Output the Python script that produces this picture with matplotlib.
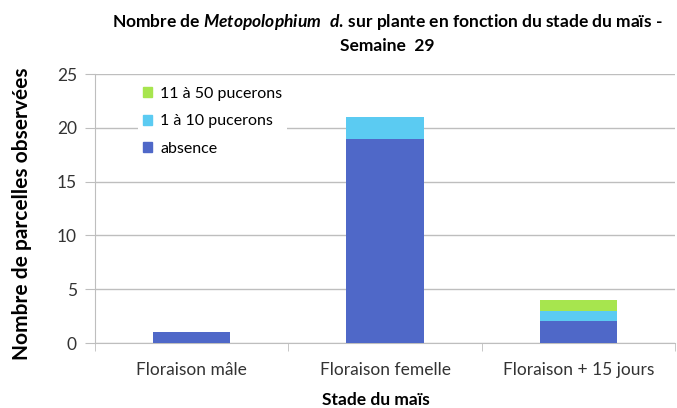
import numpy as np
import matplotlib.pyplot as plt
from matplotlib.patches import Patch

plt.rcParams['font.family'] = ['Lato', 'DejaVu Sans']
plt.rcParams['mathtext.fontset'] = 'custom'
plt.rcParams['mathtext.it'] = 'Lato:italic:bold'
plt.rcParams['mathtext.rm'] = 'Lato:bold'

# données
stades = ['Floraison mâle', 'Floraison femelle', 'Floraison + 15 jours']
absence = [1, 19, 2]
p_1_10 = [0, 2, 1]
p_11_50 = [0, 0, 1]
series_labels = ['absence', '1 à 10 pucerons', '11 à 50 pucerons']
couleurs = ['#4F68C8', '#5BCBF2', '#A7E54E']

fig = plt.figure(figsize=(6.77, 4.08), dpi=100)
ax = fig.add_axes([0.1403, 0.1593, 0.857, 0.6593])

x = np.arange(len(stades))
w = 0.4
bas = np.zeros(len(stades))
for vals, col in zip([absence, p_1_10, p_11_50], couleurs):
    ax.bar(x, vals, w, bottom=bas, color=col, zorder=3)
    bas += np.array(vals)

ax.set_xlim(-0.5, len(stades) - 0.5)
ax.set_ylim(0, 25)
ax.set_yticks(np.arange(0, 26, 5))
ax.yaxis.grid(True, color='#BEBEBE', linewidth=1, zorder=0)
ax.set_axisbelow(True)

ax.set_xticks(x)
ax.set_xticklabels(stades, fontsize=12.5, color='#333333')
ax.tick_params(axis='x', length=0, pad=14)
ax.set_xticks(np.arange(-0.5, len(stades)), minor=True)
ax.tick_params(axis='x', which='minor', length=6, color='#BEBEBE')
ax.tick_params(axis='y', length=7, color='#BEBEBE', labelsize=12.5, labelcolor='#333333', pad=6)

for s in ['top', 'right']:
    ax.spines[s].set_visible(False)
for s in ['left', 'bottom']:
    ax.spines[s].set_color('#BEBEBE')

# titre des axes
fig.text(0.555, 0.02, 'Stade du maïs', ha='center', va='center', fontsize=12.5, fontweight='bold')
fig.text(0.033, 0.475, 'Nombre de parcelles observées', ha='center', va='center',
         rotation=90, fontsize=15, fontweight='bold')

fig.text(0.572, 0.945, r'Nombre de $\mathit{Metopolophium\ \ d.}\,$sur plante en fonction du stade du maïs -',
         ha='center', va='center', fontsize=12.5, fontweight='bold')
fig.text(0.572, 0.888, 'Semaine  29', ha='center', va='center', fontsize=12.5, fontweight='bold')

handles = [Patch(color=couleurs[i]) for i in [2, 1, 0]]
labels = [series_labels[i] for i in [2, 1, 0]]
leg = ax.legend(handles, labels, loc='upper left', bbox_to_anchor=(0.06, 1.0),
                frameon=True, framealpha=1, edgecolor='white', fontsize=11.5,
                handlelength=0.6, handleheight=0.6, handletextpad=0.5,
                labelspacing=0.85, borderpad=0.3)
leg.get_frame().set_linewidth(0)

fig.savefig('out.png', dpi=100)
